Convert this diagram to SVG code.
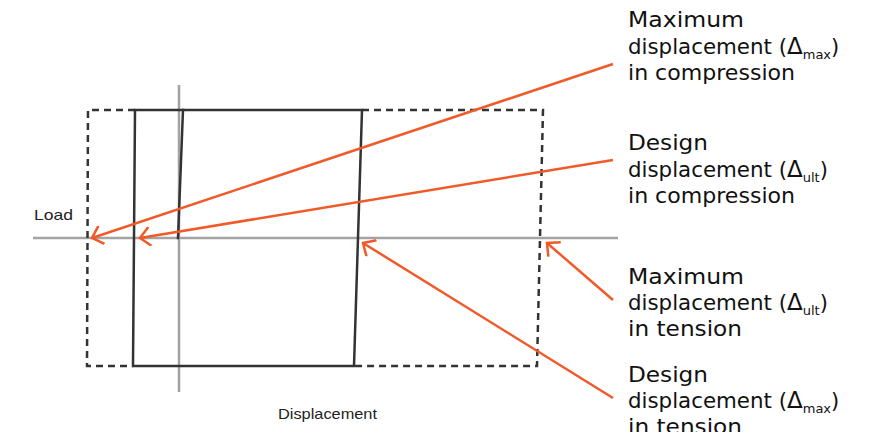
<svg xmlns="http://www.w3.org/2000/svg" width="884" height="432" viewBox="0 0 884 432">
<style>
.axis{stroke:#a3a3a3;stroke-width:2.5;fill:none}
.solid{stroke:#333;stroke-width:2.5;fill:none;stroke-linecap:square}
.dash{stroke:#333;stroke-width:2.5;fill:none;stroke-dasharray:7 5}
.lead{stroke:#f05a28;stroke-width:2.5;fill:none;marker-end:url(#chev)}
.lbl{font-family:"DejaVu Sans","Open Sans",sans-serif;font-size:21px;fill:#111}
.dl{font-size:23px}
.sub{font-size:13px}
.ax{font-family:"Liberation Sans","Open Sans",sans-serif;font-size:15px;fill:#222}
</style>
<defs>
<marker id="chev" viewBox="0 0 20 20" refX="16" refY="10" markerWidth="20" markerHeight="20" markerUnits="userSpaceOnUse" orient="auto">
<path d="M6,0.5 L16,10 L6,19.5" fill="none" stroke="#f05a28" stroke-width="2.5"/>
</marker>
</defs>
<rect width="884" height="432" fill="#fff"/>
<g id="axes">
<line class="axis" x1="33" y1="238" x2="618" y2="238"/>
<line class="axis" x1="179" y1="85" x2="179" y2="392"/>
<text class="ax" x="34" y="220" font-size="16" textLength="39" lengthAdjust="spacingAndGlyphs">Load</text>
<text class="ax" x="278" y="419" fill="#444" textLength="99" lengthAdjust="spacingAndGlyphs">Displacement</text>
</g>
<g id="frame">
<path class="solid" d="M133,366 L135,110 L362,110 L354,366 Z"/>
<line class="solid" x1="183" y1="110" x2="178" y2="238"/>
</g>
<g id="dashed-frame">
<path class="dash" d="M135,110 L88,110 L87,366 L133,366"/>
<path class="dash" d="M362,110 L543,110 L537,366 L354,366"/>
</g>
<g id="connectors">
<line class="lead" x1="613" y1="64" x2="92" y2="238"/>
<line class="lead" x1="613" y1="160" x2="140" y2="238"/>
<line class="lead" x1="613" y1="300" x2="547" y2="243"/>
<line class="lead" x1="613" y1="398" x2="363" y2="243"/>
</g>
<g id="label-max-comp">
<text class="lbl" x="628" y="27" textLength="116" lengthAdjust="spacingAndGlyphs">Maximum</text>
<text class="lbl" x="628" y="54"><tspan textLength="159" lengthAdjust="spacingAndGlyphs">displacement (</tspan><tspan class="dl">Δ</tspan><tspan class="sub" dy="5">max</tspan><tspan dy="-5">)</tspan></text>
<text class="lbl" x="628" y="80" textLength="167" lengthAdjust="spacingAndGlyphs">in compression</text>
</g>
<g id="label-design-comp">
<text class="lbl" x="628" y="150" textLength="80" lengthAdjust="spacingAndGlyphs">Design</text>
<text class="lbl" x="628" y="177"><tspan textLength="159" lengthAdjust="spacingAndGlyphs">displacement (</tspan><tspan class="dl">Δ</tspan><tspan class="sub" dy="5">ult</tspan><tspan dy="-5">)</tspan></text>
<text class="lbl" x="628" y="203" textLength="167" lengthAdjust="spacingAndGlyphs">in compression</text>
</g>
<g id="label-max-tens">
<text class="lbl" x="628" y="284" textLength="116" lengthAdjust="spacingAndGlyphs">Maximum</text>
<text class="lbl" x="628" y="310"><tspan textLength="159" lengthAdjust="spacingAndGlyphs">displacement (</tspan><tspan class="dl">Δ</tspan><tspan class="sub" dy="5">ult</tspan><tspan dy="-5">)</tspan></text>
<text class="lbl" x="628" y="336" textLength="114" lengthAdjust="spacingAndGlyphs">in tension</text>
</g>
<g id="label-design-tens">
<text class="lbl" x="628" y="382" textLength="80" lengthAdjust="spacingAndGlyphs">Design</text>
<text class="lbl" x="628" y="408"><tspan textLength="159" lengthAdjust="spacingAndGlyphs">displacement (</tspan><tspan class="dl">Δ</tspan><tspan class="sub" dy="5">max</tspan><tspan dy="-5">)</tspan></text>
<text class="lbl" x="628" y="434" textLength="114" lengthAdjust="spacingAndGlyphs">in tension</text>
</g>
</svg>
